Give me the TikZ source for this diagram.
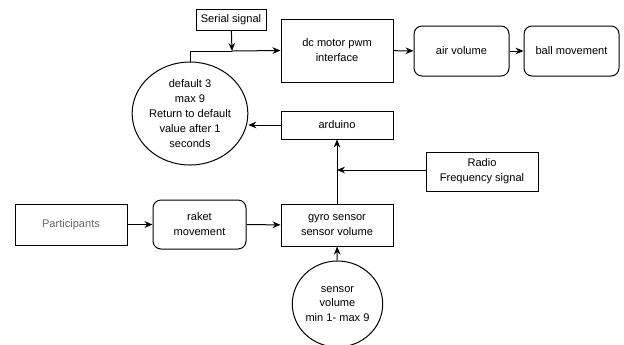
\documentclass[tikz,border=0pt]{standalone}
\usepackage{xcolor}
\usepackage{fontspec}
\setmainfont{Liberation Sans}
\usetikzlibrary{shapes.geometric,arrows.meta}

\begin{document}
\begin{tikzpicture}[x=0.75pt,y=-0.75pt]
			\tikzstyle{block} = [draw, line width=0.75pt, align=center, inner sep=0pt, font=\fontsize{8.3}{11.2}\selectfont]
			\tikzstyle{state} = [block, rounded corners=6pt]
			\tikzstyle{valve} = [block, ellipse]
			\tikzset{edge/.style = {line width=0.75pt, -{Stealth[length=6pt,width=5pt]}}}
			\useasboundingbox (0,0) rectangle (624,344);
			\clip (0,0) rectangle (624,344);
			
			\node[block, minimum width=52.5pt, minimum height=15.75pt](serial) at (231,19.5) {Serial signal};
			\node[block, minimum width=84pt, minimum height=47.25pt](motor) at (337,50.5) {dc motor pwm\\interface};
			\node[state, minimum width=71.25pt, minimum height=37.5pt](air) at (461.5,51) {air volume};
			\node[state, minimum width=71.25pt, minimum height=37.5pt](ball) at (571.5,51) {ball movement};
			\draw[edge](motor) to (air);
			\draw[edge](air) to (ball);
			
			\node[valve, minimum width=69.75pt, minimum height=77.25pt](limit) at (190,113.5) {default 3\\max 9\\Return to default\\value after 1\\seconds};
			\coordinate (join) at (232,51);
			\draw[line width=0.75pt](limit.north) |- (join);
			\draw[edge](join) to (motor.west);
			\draw[edge](serial) to (join);
			
			\node[block, minimum width=84pt, minimum height=21pt](arduino) at (337,125) {arduino};
			\draw[edge](arduino.west) to (arduino.west -| limit.east);
			
			\node[block, minimum width=84pt, minimum height=29.25pt](radio) at (482,171.5) {Radio\\Frequency signal};
			\node[block, minimum width=84pt, minimum height=31.5pt](gyro) at (337,225) {gyro sensor\\sensor volume};
			\coordinate (tap) at (337,170);
			\draw[edge](gyro) to (arduino);
			\draw[edge](radio.west |- tap) to (tap);
			
			\node[block, text=black!60, minimum width=84pt, minimum height=30.75pt](people) at (71,224.5) {Participants};
			\node[state, minimum width=69.75pt, minimum height=36.75pt](raket) at (199.5,224.5) {raket\\movement};
			\draw[edge](people) to (raket);
			\draw[edge](raket) to (gyro);
			
			\node[valve, minimum width=56.25pt, minimum height=64.5pt](range) at (337.5,304) {sensor\\volume\\min 1- max 9};
			\draw[edge](range) to (gyro);
			
\end{tikzpicture}
\end{document}
